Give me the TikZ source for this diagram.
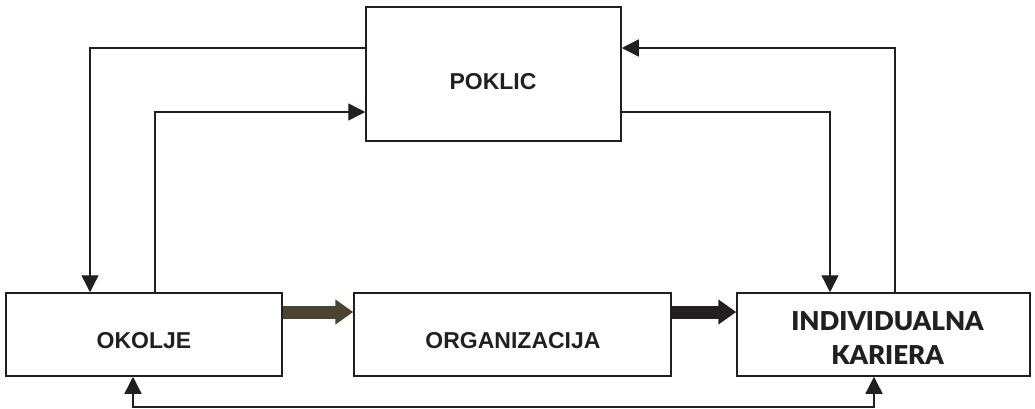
\documentclass[tikz,border=0pt]{standalone}
\usepackage{fontspec}
\setmainfont{Liberation Sans}
\newfontfamily\heavyfont{Lato Black}
\usetikzlibrary{arrows.meta,calc}
\definecolor{edge}{HTML}{231F20}
\definecolor{olive}{HTML}{4A4431}
\begin{document}
\begin{tikzpicture}[x=1pt,y=-1pt,
  box/.style={draw=edge,line width=1.5pt,minimum width=#1,inner sep=0pt},
  lbl/.style={font=\fontsize{23}{26}\selectfont\bfseries,text=edge,inner sep=0pt},
  conn/.style={draw=edge,line width=1.4pt,-{Triangle[length=17pt 0 0,width=17pt 0 0]}},
  flow/.style={line width=13pt,-{Triangle[length=18pt 0 0,width=24pt 0 0]}}]
\useasboundingbox (0,0) rectangle (1035,408);
% the four boxes
\node[box=255pt,minimum height=134pt] (pok) at (493.5,74) {};
\node[box=276pt,minimum height=83pt] (ok) at (144,334.5) {};
\node[box=317pt,minimum height=83pt] (org) at (512.5,334.5) {};
\node[box=293pt,minimum height=83pt] (ind) at (883.5,334.5) {};
% their labels
\node[lbl] (tpok) at (493,82) {POKLIC};
\node[lbl] (tok) at (144,341) {OKOLJE};
\node[lbl] (torg) at (513,341) {ORGANIZACIJA};
\node[lbl,font=\fontsize{26}{34}\heavyfont,align=center,anchor=north] (tind) at (887.5,311.5) {INDIVIDUALNA\\KARIERA};
% main flow
\draw[flow,olive] (ok.east |- 0,312) -- (org.west |- 0,312);
\draw[flow,edge] (org.east |- 0,312) -- (ind.west |- 0,312);
% feedback loops
\draw[conn] (pok.west |- 0,48) -| (ok.north -| 90,0);
\draw[conn] (ok.north -| 155,0) |- (pok.west |- 0,112);
\draw[conn] (pok.east |- 0,112) -| (ind.north -| 830,0);
\draw[conn] (ind.north -| 895,0) |- (pok.east |- 0,48);
\coordinate (lo) at (133,407);
\coordinate (ro) at (874,407);
\draw[conn] (ro) -- (lo) -- (ok.south -| lo);
\draw[conn] (lo) -- (ro) -- (ind.south -| ro);
\end{tikzpicture}
\end{document}
